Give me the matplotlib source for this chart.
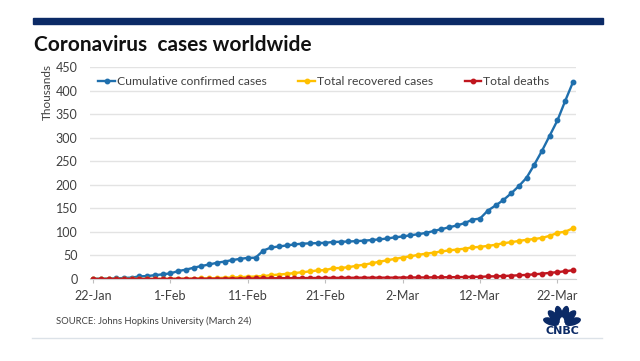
import numpy as np
import pandas as pd
import matplotlib
matplotlib.use("Agg")
import matplotlib.pyplot as plt
from matplotlib.patches import Rectangle, Ellipse

plt.rcParams['font.family'] = ['Lato', 'DejaVu Sans']

# Data (thousands), daily from 22 Jan to 24 Mar
dates = pd.date_range("2020-01-22", "2020-03-24", freq="D")
confirmed = [0.6, 0.7, 0.9, 1.4, 2.1, 2.9, 5.6, 6.2, 8.2, 9.9,
             12.0, 16.8, 19.9, 23.9, 27.6, 30.8, 34.4, 37.1, 40.2, 42.8,
             44.8, 45.2, 60.4, 66.9, 69.0, 71.2, 73.3, 75.1, 75.6, 76.2,
             76.8, 78.6, 79.0, 79.6, 80.4, 81.4, 82.7, 84.1, 86.0, 88.4,
             90.3, 92.8, 95.1, 97.9, 101.8, 105.8, 109.8, 113.6, 118.6, 125.9,
             128.4, 145.2, 156.1, 167.5, 181.6, 197.1, 214.8, 242.6, 272.2, 304.5,
             337.0, 378.2, 418.0]
recovered = [0.0, 0.0, 0.0, 0.0, 0.1, 0.1, 0.1, 0.1, 0.1, 0.2,
             0.3, 0.5, 0.6, 0.9, 1.1, 1.5, 2.0, 2.6, 3.2, 3.9,
             4.7, 5.2, 6.3, 8.1, 9.4, 10.9, 12.6, 14.4, 16.1, 18.2,
             18.9, 22.9, 23.4, 25.2, 27.9, 30.4, 33.3, 36.7, 39.8, 42.7,
             45.6, 48.2, 51.2, 53.8, 55.9, 58.4, 60.7, 62.5, 64.4, 67.0,
             68.3, 70.3, 72.6, 76.0, 78.1, 80.8, 83.2, 84.9, 87.3, 91.7,
             97.9, 100.5, 107.7]
deaths = [0.0, 0.0, 0.0, 0.0, 0.1, 0.1, 0.1, 0.1, 0.2, 0.2,
          0.3, 0.4, 0.4, 0.5, 0.6, 0.6, 0.7, 0.8, 0.9, 1.0,
          1.1, 1.1, 1.4, 1.5, 1.7, 1.8, 1.9, 2.0, 2.1, 2.2,
          2.3, 2.5, 2.5, 2.6, 2.7, 2.8, 2.8, 2.9, 2.9, 3.0,
          3.1, 3.2, 3.3, 3.3, 3.5, 3.6, 3.8, 4.0, 4.3, 4.6,
          4.7, 5.4, 5.8, 6.4, 7.1, 7.9, 8.7, 9.9, 11.3, 13.0,
          14.6, 16.5, 18.6]
tick_dates = pd.date_range("2020-01-22", "2020-03-22", freq="10D")
tick_labels = [f"{d.day}-{d.strftime('%b')}" for d in tick_dates]

blue = "#1F6FAD"
yellow = "#FFC000"
red = "#C0161E"
navy = "#0B2A66"
grey_txt = "#404040"

fig = plt.figure(figsize=(6.4, 3.61), dpi=100)
W, H = 640, 361

# header bar and title
fig.patches.append(Rectangle((33 / W, 1 - 24 / H), 570 / W, 6 / H,
                             transform=fig.transFigure, color=navy))
fig.text(34 / W, 1 - 45 / H, "Coronavirus  cases worldwide", fontsize=15,
         fontweight="bold", va="center", ha="left", color="#111111")

ax = fig.add_axes([90 / W, 1 - 279 / H, 486 / W, 212 / H])
ax.plot(dates, confirmed, color=blue, marker="o", ms=3.2, lw=1.7,
        label="Cumulative confirmed cases")
ax.plot(dates, recovered, color=yellow, marker="o", ms=3.2, lw=1.7,
        label="Total recovered cases")
ax.plot(dates, deaths, color=red, marker="o", ms=3.2, lw=1.7,
        label="Total deaths")

day = pd.Timedelta(days=1)
ax.set_xlim(dates[0] - 0.39 * day, dates[-1] + 0.39 * day)
ax.set_ylim(0, 450)
ax.set_yticks(np.arange(0, 451, 50))
ax.set_xticks(tick_dates)
ax.set_xticklabels(tick_labels)
ax.tick_params(axis="y", length=0, labelsize=9, colors=grey_txt, pad=9)
ax.tick_params(axis="x", length=3, color="#BFBFBF", labelsize=9,
               labelcolor=grey_txt, pad=5)
ax.grid(axis="y", color="#E3E3E3", lw=1)
ax.set_axisbelow(True)
for s in ["top", "right", "left"]:
    ax.spines[s].set_visible(False)
ax.spines["bottom"].set_color("#D0D0D0")
ax.set_ylabel("Thousands", fontsize=8.5, color=grey_txt)
ax.yaxis.set_label_coords(-0.077, 0.88)

ax.legend(loc="center left", bbox_to_anchor=(0.005, 0.93), ncol=3,
          frameon=False, fontsize=8.7, handlelength=1.35, handletextpad=0.2,
          columnspacing=2.6, borderpad=0, labelcolor=grey_txt)

fig.text(56 / W, 1 - 321 / H, "SOURCE: Johns Hopkins University (March 24)",
         fontsize=6.8, color=grey_txt, va="center")

# bottom rule
fig.add_artist(plt.Line2D([32 / W, 602 / W], [1 - 338 / H, 1 - 338 / H],
                          transform=fig.transFigure, color="#DCE2E8", lw=1))

# simple peacock logo
lax = fig.add_axes([542 / W, 1 - 335 / H, 40 / W, 31 / H])
lax.set_xlim(0, 40)
lax.set_ylim(0, 31)
lax.axis("off")
base_y = 10
for ang in np.linspace(163, 17, 6):
    r = np.deg2rad(ang)
    cx, cy = 20 + 11.5 * np.cos(r), base_y + 11.5 * np.sin(r)
    lax.add_patch(Ellipse((cx, cy), 15, 6.2, angle=ang, color=navy))
lax.add_patch(Ellipse((20, base_y + 3), 3.2, 8, color="white"))
lax.text(20, 3.5, "CNBC", ha="center", va="center", fontsize=8,
         fontweight="heavy", color=navy, family="DejaVu Sans")

fig.savefig("out.png", dpi=100)
